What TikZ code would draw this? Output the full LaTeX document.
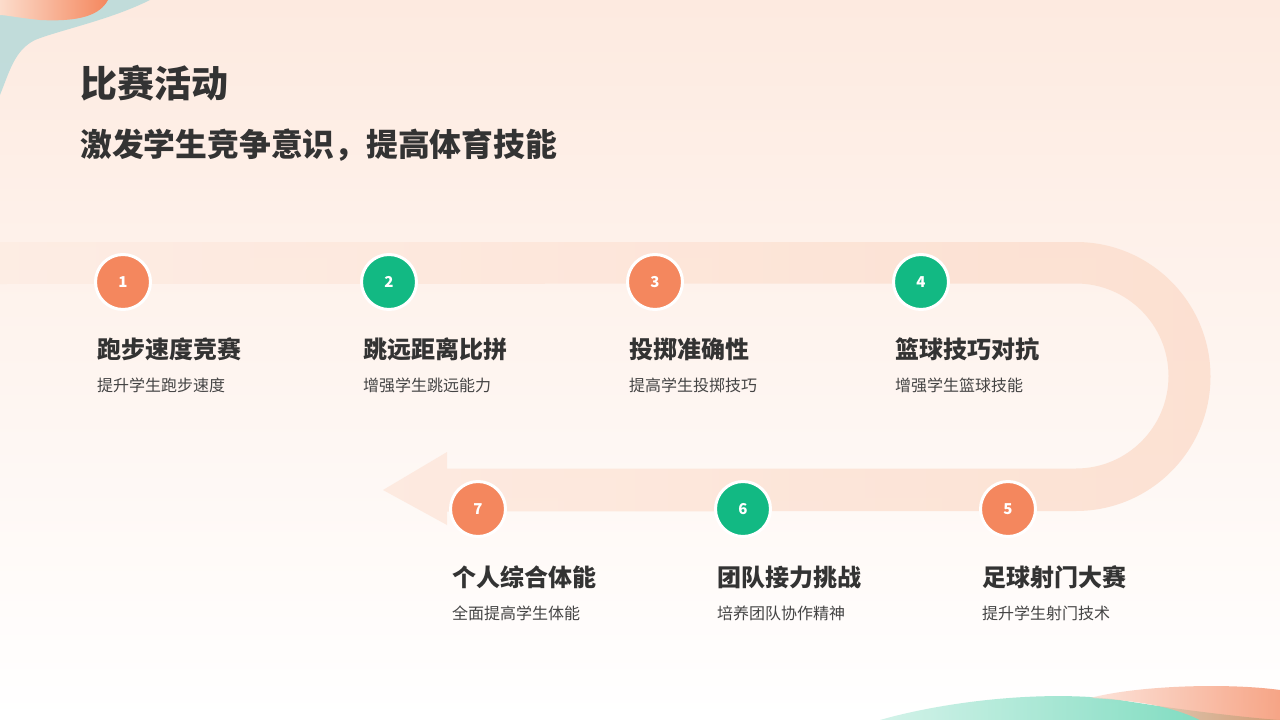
\documentclass[tikz,border=0pt]{standalone}
\usepackage{fontspec}
\setmainfont{Noto Sans CJK SC}
\usetikzlibrary{shadings}
\definecolor{org}{HTML}{F4875E}
\definecolor{grn}{HTML}{12B983}
\definecolor{band}{HTML}{FCDCCB}
\definecolor{txt}{HTML}{333333}
\definecolor{sub}{HTML}{444444}
\definecolor{mint}{HTML}{5ED3B0}
\begin{document}
\begin{tikzpicture}[x=1pt,y=-1pt,
  num/.style={circle,draw=white,line width=3pt,minimum size=55pt,inner sep=0pt,text=white,font=\fontsize{15}{15}\selectfont\bfseries},
  ttl/.style={anchor=west,inner sep=0pt,text=txt,font=\fontsize{24}{24}\selectfont\bfseries},
  dsc/.style={anchor=west,inner sep=0pt,text=sub,font=\fontsize{16}{16}\selectfont}]
\useasboundingbox (0,0) rectangle (1280,720);
\shade[top color=band!60!white,bottom color=white] (0,0) rectangle (1280,720);
% decorations
\fill[teal!30!white,opacity=0.8] (0,0) -- (150,0) .. controls (110,20) and (60,30) .. (35,40) .. controls (15,50) and (10,70) .. (0,95) -- cycle;
\shade[left color=band,right color=org] (0,0) -- (108,0) .. controls (100,15) and (80,22) .. (40,20) .. controls (20,18) and (5,15) .. (0,15) -- cycle;
\shade[left color=mint!30!white,right color=mint,opacity=0.9] (880,720) .. controls (950,700) and (1050,690) .. (1120,700) .. controls (1180,710) and (1250,718) .. (1280,720) -- cycle;
\shade[left color=org!30!white,right color=org,opacity=0.75] (1090,698) .. controls (1140,685) and (1230,683) .. (1280,690) -- (1280,720) -- (1200,720) .. controls (1170,705) and (1130,700) .. (1090,698) -- cycle;
% band
\shade[left color=band!55!white,right color=band,opacity=0.8] (0,242) -- (1076,242) arc[start angle=-90,end angle=90,radius=134.5] -- (447,511.5) -- (447,525) -- (383,490) -- (447,452) -- (447,468.5) -- (1076,468.5) arc[start angle=90,end angle=-90,radius=92.5] -- (0,284) -- cycle;
% title
\node[anchor=west,inner sep=0pt,text=txt,font=\fontsize{37}{37}\selectfont\bfseries] (t1) at (80,83) {比赛活动};
\node[anchor=west,inner sep=0pt,text=txt,font=\fontsize{31.8}{32}\selectfont\bfseries] (t2) at (80,145) {激发学生竞争意识，提高体育技能};
% steps
\node[num,fill=org] (c1) at (123,282) {1};
\node[num,fill=grn] (c2) at (389,282) {2};
\node[num,fill=org] (c3) at (655,282) {3};
\node[num,fill=grn] (c4) at (921,282) {4};
\node[num,fill=org] (c5) at (1008,509) {5};
\node[num,fill=grn] (c6) at (743,509) {6};
\node[num,fill=org] (c7) at (478,509) {7};
\node[ttl] (a1) at (97,349) {跑步速度竞赛};
\node[dsc] (b1) at (97,385) {提升学生跑步速度};
\node[ttl] (a2) at (363,349) {跳远距离比拼};
\node[dsc] (b2) at (363,385) {增强学生跳远能力};
\node[ttl] (a3) at (629,349) {投掷准确性};
\node[dsc] (b3) at (629,385) {提高学生投掷技巧};
\node[ttl] (a4) at (895,349) {篮球技巧对抗};
\node[dsc] (b4) at (895,385) {增强学生篮球技能};
\node[ttl] (a5) at (982,577) {足球射门大赛};
\node[dsc] (b5) at (982,613) {提升学生射门技术};
\node[ttl] (a6) at (717,577) {团队接力挑战};
\node[dsc] (b6) at (717,613) {培养团队协作精神};
\node[ttl] (a7) at (452,577) {个人综合体能};
\node[dsc] (b7) at (452,613) {全面提高学生体能};
\end{tikzpicture}
\end{document}
